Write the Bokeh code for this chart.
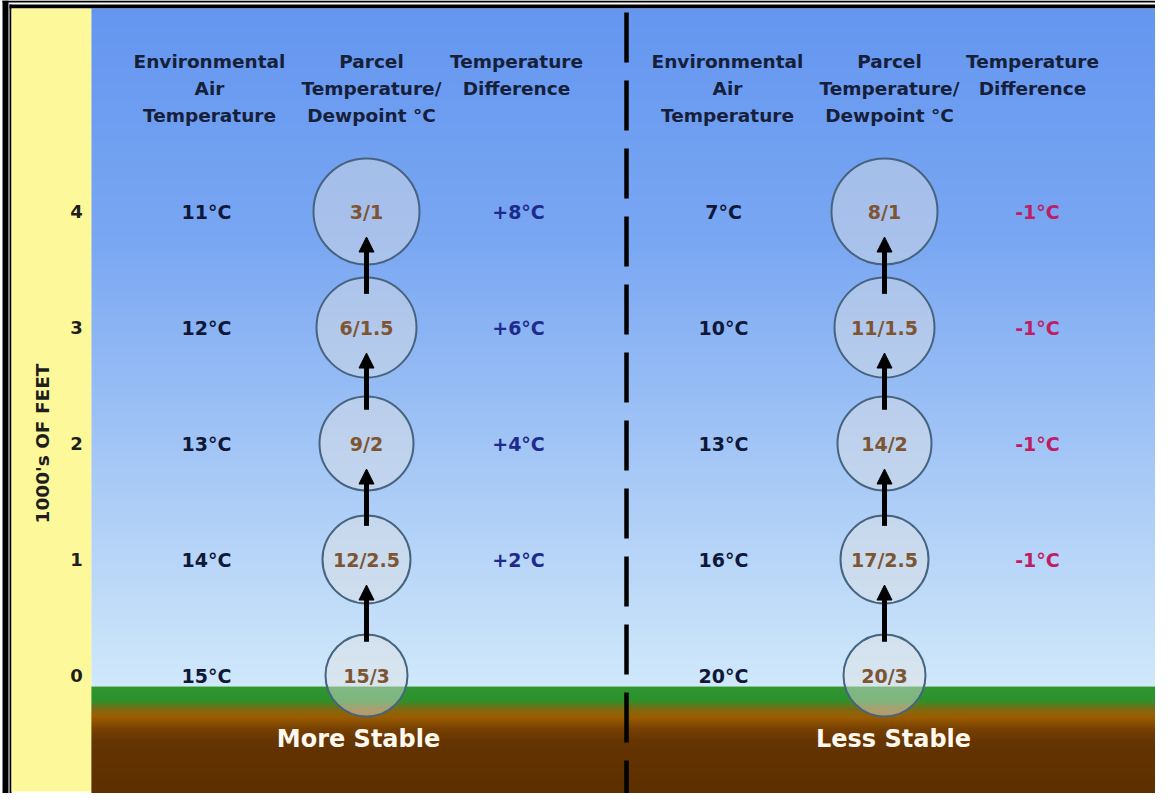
import numpy as np
from bokeh.plotting import figure
from bokeh.models import Range1d, ColumnDataSource, Arrow, NormalHead
from bokeh.core.properties import value
from bokeh.embed import file_html
from bokeh.resources import INLINE

# ---------------- data ----------------
altitude_kft = [0, 1, 2, 3, 4]
altitude_tick_labels = ["0", "1", "2", "3", "4"]
stable_env_temp = ["15°C", "14°C", "13°C", "12°C", "11°C"]
stable_parcel = ["15/3", "12/2.5", "9/2", "6/1.5", "3/1"]
stable_diff = ["", "+2°C", "+4°C", "+6°C", "+8°C"]
unstable_env_temp = ["20°C", "16°C", "13°C", "10°C", "7°C"]
unstable_parcel = ["20/3", "17/2.5", "14/2", "11/1.5", "8/1"]
unstable_diff = ["", "-1°C", "-1°C", "-1°C", "-1°C"]
header_env = ["Environmental", "Air", "Temperature"]
header_parcel = ["Parcel", "Temperature/", "Dewpoint °C"]
header_diff = ["Temperature", "Difference"]
panel_names = ["More Stable", "Less Stable"]
axis_title = "1000's OF FEET"

# ---------------- layout ----------------
W, H = 1155, 793
X0, TOP = 8, 8
ALT0_PX = 683.0
PX_PER_KFT = 116.0


def Y(px):
    return (ALT0_PX - np.asarray(px, dtype=float)) / PX_PER_KFT


FONT = value("DejaVu Sans")
alt = np.array(altitude_kft, dtype=float)

p = figure(width=W, height=H, x_range=Range1d(X0, X0 + W),
           y_range=Range1d(float(Y(TOP + H)), float(Y(TOP))),
           output_backend="svg", toolbar_location=None,
           x_axis_type=None, y_axis_type=None, min_border=0)
p.outline_line_color = None
p.background_fill_color = "white"
p.border_fill_color = "white"


def gradient_quads(left, right, stops, y_from, y_to, step):
    ys = np.arange(y_from, y_to, step, dtype=float)
    sy = [s[0] for s in stops]
    cols = []
    for yy in ys:
        c = [np.interp(yy + step / 2.0, sy, [s[1][k] for s in stops]) for k in range(3)]
        cols.append("#%02x%02x%02x" % tuple(int(round(v)) for v in c))
    bottoms = np.minimum(ys + step + 0.6, y_to)
    p.quad(left=left, right=right, top=Y(ys), bottom=Y(bottoms),
           fill_color=cols, line_color=None)


# frame
p.quad(left=[10, 10, 17, 17], right=[16, 1163, 19, 1163],
       top=Y([8, 8, 12, 12]), bottom=Y([801, 10, 801, 16]),
       fill_color="black", line_color=None)
# yellow strip
p.quad(left=19, right=99, top=float(Y(16)), bottom=float(Y(799)),
       fill_color="#fdf99b", line_color=None)
# sky
gradient_quads(99, 1168, [(16, (100, 150, 240)), (250, (122, 167, 242)), (694, (208, 232, 250))], 16, 694, 2)
# ground
gradient_quads(99, 1168, [(694, (46, 150, 50)), (708, (45, 145, 45)), (716, (120, 108, 20)),
                          (724, (156, 94, 0)), (737, (118, 64, 3)), (750, (100, 52, 2)),
                          (801, (94, 48, 0))], 694, 801, 1)

# divider
p.line(x=[634, 634], y=[float(Y(20)), float(Y(801))], line_width=4.5,
       line_color="black", line_dash="50 18")

# axis labels
p.text(x=[84] * 5, y=alt, text=altitude_tick_labels, text_font=FONT,
       text_font_style="bold", text_font_size="18px", text_color="#1e1e1e",
       text_align="center", text_baseline="middle")
p.text(x=[50], y=[float(Y(451))], text=[axis_title], angle=np.pi / 2,
       text_font=FONT, text_font_style="bold", text_font_size="18.5px",
       text_color="#1e1e1e", text_align="center", text_baseline="middle")

panels = [
    dict(env=stable_env_temp, parcel=stable_parcel, diff=stable_diff,
         x_env=214, x_parcel=374, x_diff=526, hx=(217, 379, 524),
         diff_color="#1e2a8c", name=panel_names[0], x_name=366),
    dict(env=unstable_env_temp, parcel=unstable_parcel, diff=unstable_diff,
         x_env=731, x_parcel=892, x_diff=1045, hx=(735, 897, 1040),
         diff_color="#be1e64", name=panel_names[1], x_name=901),
]

header_line_px = [69, 96, 123]

for pan in panels:
    # headers
    for hdr, hx in zip([header_env, header_parcel, header_diff], pan["hx"]):
        p.text(x=[hx] * len(hdr), y=Y(header_line_px[:len(hdr)]), text=hdr,
               text_font=FONT, text_font_style="bold", text_font_size="18.5px",
               text_color="#16203a", text_align="center", text_baseline="middle")
    # environmental temps
    p.text(x=[pan["x_env"]] * 5, y=alt, text=pan["env"], text_font=FONT,
           text_font_style="bold", text_font_size="19px", text_color="#0f1838",
           text_align="center", text_baseline="middle")
    # temperature differences
    p.text(x=[pan["x_diff"]] * 5, y=alt, text=pan["diff"], text_font=FONT,
           text_font_style="bold", text_font_size="19px", text_color=pan["diff_color"],
           text_align="center", text_baseline="middle")
    # parcels (size grows with altitude)
    sizes = [2 * (41 + 3 * a) for a in altitude_kft]
    p.scatter(x=[pan["x_parcel"]] * 5, y=alt, size=sizes, marker="circle",
              fill_color="#e2e2e2", fill_alpha=0.45, line_color="#46647f",
              line_width=2)
    arr_src = ColumnDataSource(dict(x=[pan["x_parcel"]] * 4,
                                    y0=list(alt[:-1] + 0.29),
                                    y1=list(alt[:-1] + 0.78)))
    p.add_layout(Arrow(source=arr_src, x_start="x", y_start="y0", x_end="x", y_end="y1",
                       line_width=5, line_color="black",
                       end=NormalHead(size=15, fill_color="black", line_color="black",
                                      line_width=1)))
    p.text(x=[pan["x_parcel"]] * 5, y=alt, text=pan["parcel"], text_font=FONT,
           text_font_style="bold", text_font_size="19px", text_color="#7d5532",
           text_align="center", text_baseline="middle")
    # panel names
    p.text(x=[pan["x_name"]], y=[float(Y(746))], text=[pan["name"]], text_font=FONT,
           text_font_style="bold", text_font_size="24px", text_color="#fff8ee",
           text_align="center", text_baseline="middle")

open("out.html", "w").write(file_html(p, INLINE))
